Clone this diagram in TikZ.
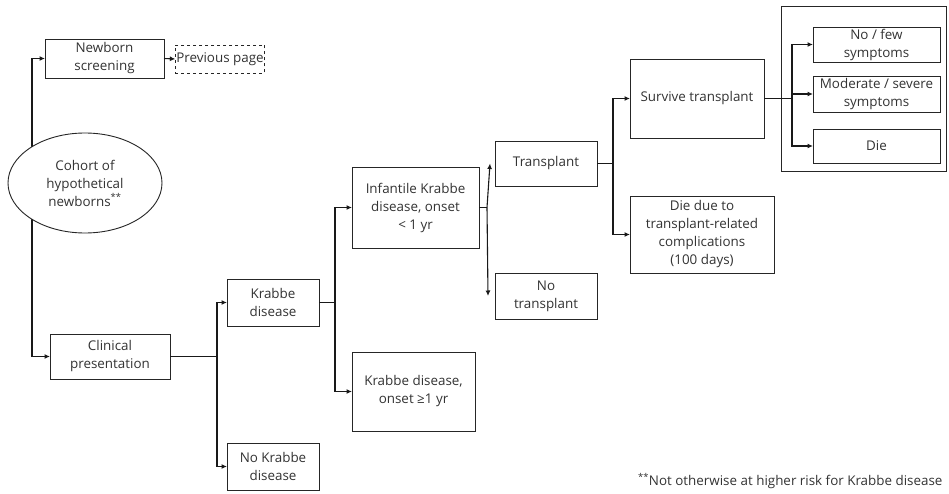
\documentclass[tikz,border=0pt]{standalone}
\usepackage{fontspec}
\setmainfont{Open Sans}
\usetikzlibrary{arrows.meta,shapes.geometric,calc}
\begin{document}
\begin{tikzpicture}[x=1pt,y=-1pt,
  font=\fontsize{13.4}{18}\selectfont,
  box/.style={draw=black!85,line width=0.9pt,align=center,inner sep=1pt,outer sep=0pt,fill=white,text=black!80},
  arr/.style={line width=1.1pt,draw=black!90,-{Latex[length=5.5pt,width=5pt]}},
  ln/.style={line width=1.1pt,draw=black!90}]
\useasboundingbox (0,0) rectangle (949,494);
% outer grouping frame
\draw[line width=0.9pt,draw=black!85] (781,6) rectangle (946,171);
\node[box,minimum width=119,minimum height=39] (nbs) at (104.5,58.5) {Newborn\\screening};
\node[box,dashed,minimum width=88,minimum height=28] (prev) at (220,59) {Previous page};
\node[box,minimum width=120,minimum height=45] (clin) at (110,356.5) {Clinical\\presentation};
\node[box,minimum width=92,minimum height=47] (kd) at (273,302.5) {Krabbe\\disease};
\node[box,minimum width=92,minimum height=47] (nokd) at (273,466.5) {No Krabbe\\disease};
\node[box,minimum width=127,minimum height=81] (inf) at (415.5,207.5) {Infantile Krabbe\\disease, onset\\< 1 yr};
\node[box,minimum width=123,minimum height=79] (late) at (413.5,391.5) {Krabbe disease,\\onset ≥1 yr};
\node[box,minimum width=102,minimum height=45] (tx) at (546,163.5) {Transplant};
\node[box,minimum width=102,minimum height=46] (notx) at (546,296) {No\\transplant};
\node[box,minimum width=134,minimum height=79] (surv) at (697,98.5) {Survive transplant};
\node[box,minimum width=144,minimum height=77] (dietx) at (702,234.5) {Die due to\\transplant-related\\complications\\(100 days)};
\node[box,minimum width=127,minimum height=35] (few) at (876.5,44.5) {No / few\\symptoms};
\node[box,minimum width=127,minimum height=36] (mod) at (876.5,94) {Moderate / severe\\symptoms};
\node[box,minimum width=127,minimum height=34] (die) at (876.5,146) {Die};
\node[anchor=east,text=black!80,font=\fontsize{13.4}{16}\selectfont] (fn) at (946,481) {\textsuperscript{**}Not otherwise at higher risk for Krabbe disease};
% junctions
\coordinate (j0) at (32,183);
\coordinate (j1) at (217,356.5);
\coordinate (j2) at (335,302.5);
\coordinate (j3) at (487,207.5);
\coordinate (j4) at (613,163.5);
\coordinate (j5) at (792,98.5);
\coordinate (t1) at ($(tx.west)+(-5,0)$);
\coordinate (t2) at ($(notx.west)+(-7,0)$);
% connectors
\draw[arr] (j0) |- (nbs.west);
\draw[arr] (j0) |- (clin.west);
\draw[arr] (nbs.east) -- (prev.west);
\draw[ln] (clin.east) -- (j1);
\draw[arr] (j1) |- (kd.west);
\draw[arr] (j1) |- (nokd.west);
\draw[ln] (kd.east) -- (j2);
\draw[arr] (j2) |- (inf.west);
\draw[arr] (j2) |- (late.west);
\draw[ln] (inf.east) -- (j3);
\draw[arr] (j3) -- (t1);
\draw[arr] (j3) -- (t2);
\draw[ln] (tx.east) -- (j4);
\draw[arr] (j4) |- (surv.west);
\draw[arr] (j4) |- (dietx.west);
\draw[ln] (surv.east) -- (j5);
\draw[arr] (j5) |- (few.west);
\draw[arr] (j5) |- (mod.west);
\draw[arr] (j5) |- (die.west);
% cohort ellipse on top of the trunk line
\node[box,ellipse,minimum width=154,minimum height=100,inner sep=0pt] (coh) at (85,183) {Cohort of\\hypothetical\\newborns\textsuperscript{**}};
\end{tikzpicture}
\end{document}
